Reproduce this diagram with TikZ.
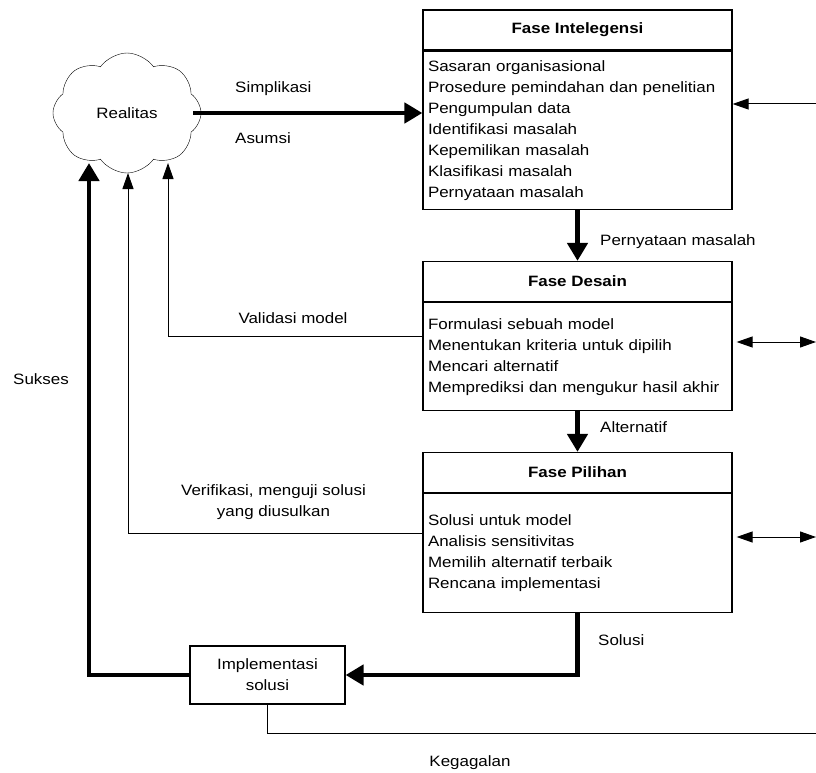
\documentclass[tikz,border=0pt]{standalone}
\usepackage{fontspec}
\setmainfont{Liberation Sans}[FakeStretch=1.13]
\usepackage{tikz}
\usetikzlibrary{positioning,arrows.meta,shapes.symbols}

\begin{document}
\begin{tikzpicture}[
  x=1pt, y=-1pt,
  font=\fontsize{15}{21}\selectfont,
  hdr/.style={draw, line width=1.2pt, minimum width=309pt, minimum height=40pt,
              inner sep=0pt, font=\fontsize{15}{21}\selectfont\bfseries},
  lst/.style={draw, line width=1.2pt, text width=299pt, inner sep=5pt, align=left},
  lbl/.style={inner sep=0pt},
  thk/.style={line width=4.5pt, -{Triangle[length=18pt,width=20pt]}},
  thn/.style={line width=1pt, -{Triangle[length=16pt,width=11pt]}},
  dbl/.style={line width=1pt, {Triangle[length=16pt,width=11pt]}-{Triangle[length=16pt,width=11pt]}}
]
\useasboundingbox (0,0) rectangle (816,773);

\node[cloud, draw, cloud puffs=8, cloud puff arc=110, minimum width=148pt,
      minimum height=120pt, inner sep=0pt] (real) at (127,113) {Realitas};

\node[hdr] (int) at (577.5,30) {Fase Intelegensi};
\node[lst, below=0pt of int, minimum height=158pt] (lst1) {Sasaran organisasional\\
  Prosedure pemindahan dan penelitian\\ Pengumpulan data\\ Identifikasi masalah\\
  Kepemilikan masalah\\ Klasifikasi masalah\\ Pernyataan masalah};

\node[hdr] (des) at (577.5,281.5) {Fase Desain};
\node[lst, below=0pt of des, minimum height=108pt] (lst2) {Formulasi sebuah model\\
  Menentukan kriteria untuk dipilih\\ Mencari alternatif\\
  Memprediksi dan mengukur hasil akhir};

\node[hdr] (pil) at (577.5,472.5) {Fase Pilihan};
\node[lst, below=0pt of pil, minimum height=119pt] (lst3) {Solusi untuk model\\
  Analisis sensitivitas\\ Memilih alternatif terbaik\\ Rencana implementasi};

\node[draw, line width=1.2pt, minimum width=155pt, minimum height=58pt, align=center,
      inner sep=0pt] (impl) at (267.5,675) {Implementasi\\ solusi};

\coordinate (tipS) at (89,163);
\coordinate (tipF) at (128,173);
\coordinate (tipV) at (168,163);
\coordinate (rin) at (816,104);
\coordinate (r2) at (816,342);
\coordinate (r3) at (816,537);
\coordinate (fail) at (816,733);

\draw[thk] ([xshift=-8pt]real.east) -- (real.east -| lst1.west);
\draw[thn] (rin) -- (rin -| lst1.east);
\draw[thk] (lst1.south) -- (des.north);
\draw[thk] (lst2.south) -- (pil.north);
\draw[thn] ([yshift=20pt]lst2.west) -| (tipV);
\draw[thn] ([yshift=19.5pt]lst3.west) -| (tipF);
\draw[dbl, shorten <=4pt] (r2 -| lst2.east) -- (r2);
\draw[dbl, shorten <=4pt] (r3 -| lst3.east) -- (r3);
\draw[thk] (lst3.south) |- (impl.east);
\draw[thk] (impl.west) -| (tipS);
\draw[line width=1pt] (impl.south) |- (fail);

\node[lbl, anchor=west] (simp) at (235,89) {Simplikasi};
\node[lbl, anchor=west] (asum) at (235,138) {Asumsi};
\node[lbl, anchor=west] (pern) at (600,242) {Pernyataan masalah};
\node[lbl, anchor=west] (alt) at (600,427) {Alternatif};
\node[lbl, anchor=west] (sol) at (598,640) {Solusi};
\node[lbl] (val) at (293,318) {Validasi model};
\node[lbl, align=center] (ver) at (273.5,502) {Verifikasi, menguji solusi\\ yang diusulkan};
\node[lbl] (suk) at (41,379) {Sukses};
\node[lbl] (keg) at (470,763) {Kegagalan};
\end{tikzpicture}
\end{document}
